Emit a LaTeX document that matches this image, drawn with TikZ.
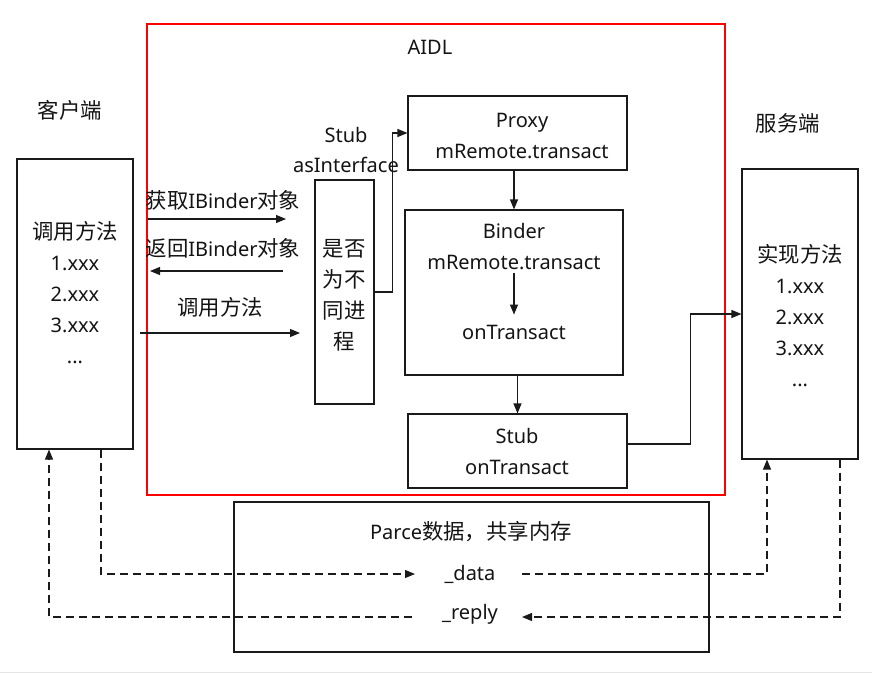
\documentclass[tikz,border=0pt]{standalone}
\usepackage{fontspec}
\setmainfont{Noto Sans}
\newfontfamily\cjk{Noto Sans CJK SC}[Scale=1.07]
\usetikzlibrary{arrows.meta,calc}
\definecolor{linec}{HTML}{1A1A1A}
\definecolor{textc}{HTML}{141414}
\definecolor{aidlred}{HTML}{FF0000}
\begin{document}
\begin{tikzpicture}[x=1pt,y=-1pt,
  box/.style={draw=linec, line width=1.1pt, inner sep=0pt},
  redbox/.style={draw=aidlred, line width=2pt, inner sep=0pt},
  txt/.style={font=\fontsize{20}{31}\selectfont, text=textc, align=center, inner sep=0pt},
  cjktxt/.style={font=\cjk\fontsize{20}{31}\selectfont, text=textc, align=center, inner sep=0pt},
  arr/.style={draw=linec, line width=1.1pt, -{Triangle[length=10pt,width=8pt]}},
  dasharr/.style={arr, dash pattern=on 8pt off 5pt}
]
\fill[white] (0,0) rectangle (872,674);
\useasboundingbox (0,0) rectangle (872,674);
\draw[gray!20, line width=1.5pt] (0,672.5) -- (872,672.5);

% AIDL frame
\node[redbox, minimum width=578pt, minimum height=471pt] (aidl) at (436,259.5) {};
\node[txt] (aidlT) at (430,47) {AIDL};

% side titles
\node[cjktxt] (clientT) at (70,110) {客户端};
\node[cjktxt] (serverT) at (788,123) {服务端};

% client and server
\node[box, minimum width=116pt, minimum height=290pt] (client) at (75,304) {};
\node[txt] (clientL) at (75,293) {{\cjk 调用方法}\\1.xxx\\2.xxx\\3.xxx\\...};
\node[box, minimum width=116pt, minimum height=290pt] (server) at (800,314) {};
\node[txt] (serverL) at (800,316) {{\cjk 实现方法}\\1.xxx\\2.xxx\\3.xxx\\...};

% stub asInterface
\node[txt, font=\fontsize{20}{30}\selectfont] (stubT) at (346,150) {Stub\\asInterface};
\node[box, minimum width=59pt, minimum height=224pt] (stubI) at (344.5,292) {};
\node[cjktxt] (stubIL) at (344,295) {是否\\为不\\同进\\程};

% proxy, binder, stub onTransact
\node[box, minimum width=219pt, minimum height=74pt] (proxy) at (517.5,133) {};
\node[txt] (proxyL) at (522,135.5) {Proxy\\mRemote.transact};
\node[box, minimum width=218pt, minimum height=165pt] (binder) at (514,292.5) {};
\node[txt] (binderT) at (514,246.5) {Binder\\mRemote.transact};
\node[txt] (onT) at (514,332) {onTransact};
\node[box, minimum width=219pt, minimum height=74pt] (stubO) at (517.5,451) {};
\node[txt] (stubOL) at (517,451.5) {Stub\\onTransact};

% parcel
\node[box, minimum width=475pt, minimum height=150pt] (parce) at (471.5,577) {};
\node[txt] (parceT) at (471,532) {Parce{\cjk 数据，共享内存}};
\node[txt] (dataT) at (470,574) {\_data};
\node[txt] (replyT) at (470,614) {\_reply};

% left arrows with labels
\node[txt] (getT) at (223,200) {{\cjk 获取}IBinder{\cjk 对象}};
\node[txt] (retT) at (223,248) {{\cjk 返回}IBinder{\cjk 对象}};
\node[cjktxt] (callT) at (220,307) {调用方法};
\coordinate (gA) at (148,219); \coordinate (gB) at (286,219);
\coordinate (rA) at (283,271); \coordinate (rB) at (150,271);
\coordinate (cA) at (140,333); \coordinate (cB) at (300,333);
\draw[arr] (gA) -- (gB);
\draw[arr] (rA) -- (rB);
\draw[arr] (cA) -- (cB);

% solid connectors
\draw[arr] (stubI.east) -- ++(18,0) |- (proxy.west);
\draw[arr] (binder.north |- proxy.south) -- (binder.north);
\draw[arr, shorten <=3pt, shorten >=10pt] (binderT.south) -- (onT.north);
\draw[arr] (stubO.north |- binder.south) -- (stubO.north);
\draw[arr] ($(stubO.east)+(0,-7)$) -- ++(63,0) |- (server.west);

% dashed data flow
\coordinate (dL) at (415,574); \coordinate (dR) at (522,574);
\coordinate (pR) at (522,617); \coordinate (pL) at (412,617);
\draw[dasharr] ([xshift=26pt]client.south) |- (dL);
\draw[dasharr] (dR) -| ([xshift=-33pt]server.south);
\draw[dasharr] ([xshift=40pt]server.south) |- (pR);
\draw[dasharr] (pL) -| ([xshift=-26pt]client.south);
\end{tikzpicture}
\end{document}
